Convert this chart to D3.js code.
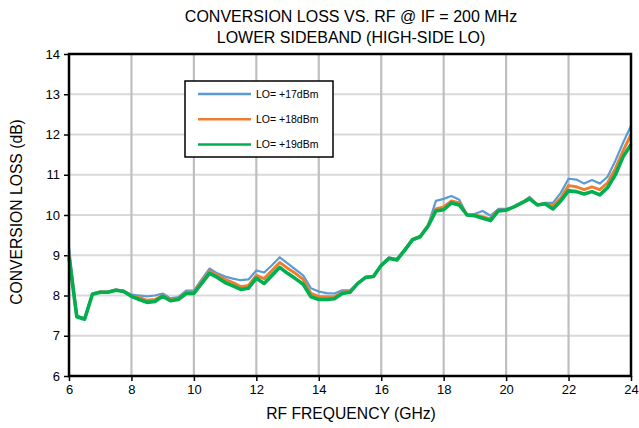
<!DOCTYPE html>
<html><head><meta charset="utf-8">
<script src="https://cdn.jsdelivr.net/npm/d3@7"></script>
<style>body{margin:0;background:#fff}svg{display:block;font-family:"Liberation Sans",Arial,sans-serif}</style>
</head><body>
<svg id="c" width="639" height="428"></svg>
<script>
const freq = [6,6.25,6.5,6.75,7,7.25,7.5,7.75,8,8.25,8.5,8.75,9,9.25,9.5,9.75,10,10.25,10.5,10.75,11,11.25,11.5,11.75,12,12.25,12.5,12.75,13,13.25,13.5,13.75,14,14.25,14.5,14.75,15,15.25,15.5,15.75,16,16.25,16.5,16.75,17,17.25,17.5,17.75,18,18.25,18.5,18.75,19,19.25,19.5,19.75,20,20.25,20.5,20.75,21,21.25,21.5,21.75,22,22.25,22.5,22.75,23,23.25,23.5,23.75,24];
const lo17 = [9.2,7.5,7.44,8.05,8.1,8.1,8.15,8.12,8.02,8.0,7.98,8.0,8.05,7.93,7.96,8.12,8.12,8.4,8.67,8.55,8.47,8.42,8.38,8.4,8.62,8.57,8.75,8.95,8.8,8.65,8.5,8.18,8.1,8.06,8.05,8.13,8.13,8.3,8.45,8.48,8.75,8.95,8.9,9.15,9.4,9.48,9.75,10.35,10.4,10.47,10.38,10.0,10.03,10.1,9.98,10.15,10.15,10.2,10.3,10.45,10.25,10.3,10.3,10.55,10.9,10.88,10.78,10.87,10.78,10.95,11.35,11.8,12.22];
const lo18 = [9.02,7.48,7.42,8.04,8.09,8.09,8.14,8.11,7.99,7.95,7.88,7.9,8.0,7.89,7.92,8.08,8.08,8.35,8.6,8.5,8.4,8.32,8.22,8.25,8.5,8.42,8.62,8.82,8.68,8.55,8.4,8.05,7.97,7.97,7.97,8.08,8.1,8.3,8.45,8.47,8.75,8.93,8.9,9.13,9.4,9.47,9.74,10.15,10.2,10.35,10.3,10.0,10.0,9.95,9.9,10.12,10.12,10.2,10.3,10.42,10.25,10.28,10.22,10.42,10.73,10.7,10.63,10.7,10.63,10.8,11.15,11.6,12.0];
const lo19 = [8.95,7.47,7.41,8.03,8.08,8.08,8.13,8.1,7.98,7.9,7.83,7.85,7.98,7.87,7.9,8.05,8.05,8.3,8.55,8.45,8.32,8.24,8.15,8.18,8.43,8.3,8.5,8.7,8.55,8.42,8.28,7.97,7.9,7.9,7.92,8.05,8.08,8.3,8.45,8.47,8.75,8.92,8.88,9.12,9.38,9.46,9.72,10.1,10.13,10.3,10.25,10.0,9.98,9.92,9.86,10.1,10.12,10.2,10.3,10.4,10.25,10.28,10.15,10.35,10.6,10.58,10.52,10.58,10.5,10.68,11.0,11.45,11.75];
const xTicks = [6,8,10,12,14,16,18,20,22,24];
const yTicks = [6,7,8,9,10,11,12,13,14];
const seriesNames = ["LO= +17dBm","LO= +18dBm","LO= +19dBm"];
const seriesColors = ["#5b9bd5","#ed7d31","#00b050"];
const seriesWidths = [2.2,3,3.6];
const titleLines = ["CONVERSION LOSS VS. RF @ IF = 200 MHz","LOWER SIDEBAND (HIGH-SIDE LO)"];

const svg = d3.select("#c");
const L=69,R=631,T=54,B=376;
const x = d3.scaleLinear().domain([6,24]).range([L,R]);
const y = d3.scaleLinear().domain([6,14]).range([B,T]);

// grid
svg.append("g").selectAll("line").data(yTicks.slice(1,-1)).join("line")
  .attr("x1",L).attr("x2",R).attr("y1",d=>y(d)).attr("y2",d=>y(d))
  .attr("stroke","#d9d9d9").attr("stroke-width",2);
svg.append("g").selectAll("line").data(xTicks.slice(1,-1)).join("line")
  .attr("y1",T).attr("y2",B).attr("x1",d=>x(d)).attr("x2",d=>x(d))
  .attr("stroke","#bfbfbf").attr("stroke-width",2.2);

// axes
const ya = svg.append("g").attr("transform",`translate(${L},0)`)
  .call(d3.axisLeft(y).tickValues(yTicks).tickSize(5).tickPadding(4).tickFormat(d3.format("d")));
const xa = svg.append("g").attr("transform",`translate(0,${B})`)
  .call(d3.axisBottom(x).tickValues(xTicks).tickSize(5).tickPadding(4).tickFormat(d3.format("d")));
[ya,xa].forEach(a=>{
  a.select(".domain").remove();
  a.selectAll("line").attr("stroke","#000").attr("stroke-width",1.5);
  a.selectAll("text").attr("font-size",13).attr("fill","#000").attr("font-family","'Liberation Sans',Arial,sans-serif");
});

// series
const data = [lo17,lo18,lo19];
const line = d3.line().x((d,i)=>x(freq[i])).y(d=>y(d));
data.forEach((s,k)=>{
  svg.append("path").datum(s).attr("d",line).attr("fill","none")
    .attr("stroke",seriesColors[k]).attr("stroke-width",seriesWidths[k]).attr("stroke-linejoin","round");
});

// frame
svg.append("rect").attr("x",L).attr("y",T).attr("width",R-L).attr("height",B-T)
  .attr("fill","none").attr("stroke","#000").attr("stroke-width",2.5);

// legend
const lg = svg.append("g");
lg.append("rect").attr("x",185).attr("y",81).attr("width",148).attr("height",76)
  .attr("fill","#fff").attr("stroke","#000").attr("stroke-width",1.5);
seriesNames.forEach((n,k)=>{
  const yy = 94 + k*25.2;
  lg.append("line").attr("x1",198).attr("x2",251).attr("y1",yy).attr("y2",yy)
    .attr("stroke",seriesColors[k]).attr("stroke-width",2.5);
  lg.append("text").attr("x",256).attr("y",yy+3.8).text(n).attr("font-size",10.5).attr("fill","#000");
});

// titles
titleLines.forEach((t,i)=>{
  svg.append("text").attr("x",351).attr("y",22+i*21).attr("text-anchor","middle")
    .attr("font-size",16).attr("fill","#000").text(t);
});
svg.append("text").attr("x",351).attr("y",419).attr("text-anchor","middle")
  .attr("font-size",15.7).attr("fill","#000").text("RF FREQUENCY (GHz)");
svg.append("text").attr("transform","translate(22,212) rotate(-90)").attr("text-anchor","middle")
  .attr("font-size",15.7).attr("fill","#000").text("CONVERSION LOSS (dB)");
</script>
</body></html>
